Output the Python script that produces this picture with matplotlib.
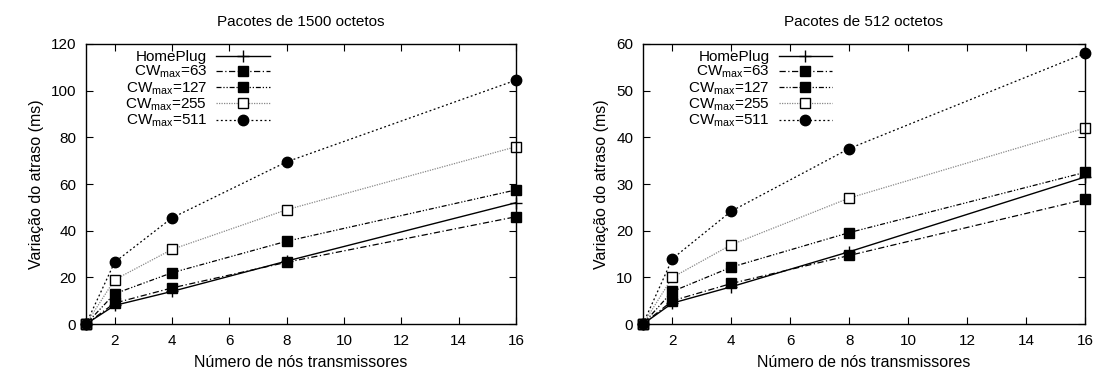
import matplotlib
matplotlib.use("Agg")
import matplotlib.pyplot as plt

plt.rcParams['font.family'] = ['Liberation Sans', 'DejaVu Sans']
plt.rcParams['mathtext.fontset'] = 'custom'
plt.rcParams['mathtext.rm'] = 'Liberation Sans'
plt.rcParams['mathtext.it'] = 'Liberation Sans'

nodes = [1, 2, 4, 8, 16]
labels = ["HomePlug", r"CW$_{\mathregular{max}}$=63", r"CW$_{\mathregular{max}}$=127",
          r"CW$_{\mathregular{max}}$=255", r"CW$_{\mathregular{max}}$=511"]

# Pacotes de 1500 octetos
homeplug_1500 = [0, 8, 14, 27, 52]
cw63_1500 = [0, 9, 15.5, 26.5, 46]
cw127_1500 = [0, 13, 22, 35.5, 57.5]
cw255_1500 = [0, 19, 32, 49, 76]
cw511_1500 = [0, 26.5, 45.5, 69.5, 104.5]

# Pacotes de 512 octetos
homeplug_512 = [0, 4.5, 8, 15.5, 31.5]
cw63_512 = [0, 5, 8.7, 14.7, 26.7]
cw127_512 = [0, 7, 12.2, 19.6, 32.5]
cw255_512 = [0, 10, 17, 27, 42]
cw511_512 = [0, 14, 24.2, 37.6, 58]

styles = [
    dict(color='black', ls='-', marker='+', ms=9, mew=1.0, mfc='black', lw=1.0),
    dict(color='black', ls=(0, (5, 2, 1, 2)), marker='s', ms=7.5, mfc='black', lw=0.9),
    dict(color='black', ls=(0, (4, 1.5, 1, 1.5, 1, 1.5)), marker='s', ms=7.5, mfc='black', lw=0.9),
    dict(color='#888888', ls=(0, (1, 1)), marker='s', ms=7, mfc='white', mec='black', mew=1.0, lw=0.9),
    dict(color='black', ls=(0, (1.5, 2)), marker='o', ms=7.5, mfc='black', lw=0.9),
]

fig = plt.figure(figsize=(10.99, 3.76), dpi=100)
ax1 = fig.add_axes([0.0782, 0.138, 0.3913, 0.745])
ax2 = fig.add_axes([0.585, 0.138, 0.4022, 0.745])

panels = [
    (ax1, "Pacotes de 1500 octetos",
     [homeplug_1500, cw63_1500, cw127_1500, cw255_1500, cw511_1500], 120, 20),
    (ax2, "Pacotes de 512 octetos",
     [homeplug_512, cw63_512, cw127_512, cw255_512, cw511_512], 60, 10),
]

for ax, title, series, ymax, ystep in panels:
    for vals, lab, st in zip(series, labels, styles):
        st = dict(st)
        mec = st.pop('mec', 'black')
        ax.plot(nodes, vals, label=lab, mec=mec, clip_on=False, **st)
    ax.set_xlim(1, 16)
    ax.set_ylim(0, ymax)
    ax.set_xticks(range(2, 17, 2))
    ax.set_yticks(range(0, ymax + 1, ystep))
    ax.tick_params(direction='in', length=5, width=0.8, top=True, right=True,
                   labelsize=11, pad=7)
    for sp in ax.spines.values():
        sp.set_linewidth(1.0)
    ax.set_title(title, fontsize=11, pad=13)
    ax.set_xlabel("Número de nós transmissores", fontsize=11.5, labelpad=5)
    ax.set_ylabel("Variação do atraso (ms)", fontsize=11.5, labelpad=5)
    ax.legend(loc='upper right', bbox_to_anchor=(0.435, 0.99), frameon=False,
              markerfirst=False, fontsize=11, handlelength=3.5,
              handletextpad=0.6, labelspacing=0.0, borderpad=0.2,
              borderaxespad=0.0)

fig.savefig("out.png", dpi=100)
